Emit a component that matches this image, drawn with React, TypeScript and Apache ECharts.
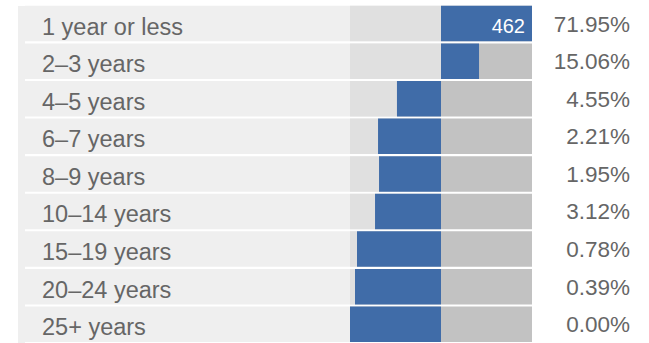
import React, { useEffect, useRef } from "react";
import * as echarts from "echarts";

const categories = [
  "1 year or less",
  "2–3 years",
  "4–5 years",
  "6–7 years",
  "8–9 years",
  "10–14 years",
  "15–19 years",
  "20–24 years",
  "25+ years",
];
const percentLabels = ["71.95%", "15.06%", "4.55%", "2.21%", "1.95%", "3.12%", "0.78%", "0.39%", "0.00%"];
const barValues = [1.0, 0.418, -0.484, -0.692, -0.681, -0.725, -0.923, -0.945, -1.0];
const barCountLabels = ["462", "", "", "", "", "", "", "", ""];

const AXIS_MIN = -416 / 91;
const AXIS_MAX = 1;

export default function App() {
  const ref = useRef<HTMLDivElement>(null);
  useEffect(() => {
    if (!ref.current) return;
    const chart = echarts.init(ref.current, null, { renderer: "svg" });
    const n = categories.length;
    const barW = 35.5;
    const common = {
      type: "bar" as const,
      barWidth: barW,
      barGap: "-100%",
      silent: true,
    };
    chart.setOption({
      animation: false,
      textStyle: { fontFamily: "Liberation Sans, Arial, sans-serif" },
      graphic: [
        {
          type: "rect",
          shape: { x: 18, y: 6, width: 7, height: 340 },
          style: { fill: "#efefef" },
          z: -1,
        },
      ],
      grid: { left: 25, right: 117, top: 4.77, height: 341.6, containLabel: false },
      xAxis: {
        type: "value",
        min: AXIS_MIN,
        max: AXIS_MAX,
        show: false,
      },
      yAxis: [
        {
          type: "category",
          data: categories,
          inverse: true,
          position: "left",
          axisLine: { show: false },
          axisTick: { show: false },
          splitLine: { show: false },
          z: 10,
          axisLabel: {
            inside: true,
            margin: 17,
            align: "left",
            verticalAlign: "top",
            lineHeight: 6,
            color: "#666666",
            fontSize: 23.5,
            fontFamily: "Liberation Sans, Arial, sans-serif",
          },
        },
        {
          type: "category",
          data: categories,
          inverse: true,
          position: "right",
          axisLine: { show: false },
          axisTick: { show: false },
          splitLine: { show: false },
          axisLabel: {
            margin: 98,
            align: "right",
            verticalAlign: "top",
            lineHeight: 1,
            color: "#666666",
            fontSize: 22.5,
            fontFamily: "Liberation Sans, Arial, sans-serif",
            formatter: (_v: string, i: number) => percentLabels[i],
          },
        },
      ],
      series: [
        { ...common, name: "strip", data: new Array(n).fill(AXIS_MIN), itemStyle: { color: "#efefef" } },
        { ...common, name: "trackL", data: new Array(n).fill(-1), itemStyle: { color: "#e0e0e0" } },
        { ...common, name: "trackR", data: new Array(n).fill(1), itemStyle: { color: "#c2c2c2" } },
        {
          ...common,
          name: "value",
          data: barValues,
          itemStyle: { color: "#406ca8" },
          label: {
            show: true,
            position: "insideRight",
            distance: 7,
            color: "#ffffff",
            fontSize: 20,
            verticalAlign: "top",
            lineHeight: 4,
            fontFamily: "Liberation Sans, Arial, sans-serif",
            formatter: (p: any) => barCountLabels[p.dataIndex],
          },
        },
      ],
    });
    return () => chart.dispose();
  }, []);
  return (
    <div
      ref={ref}
      style={{ position: "absolute", left: 0, top: 0, width: 649, height: 343 }}
    />
  );
}
